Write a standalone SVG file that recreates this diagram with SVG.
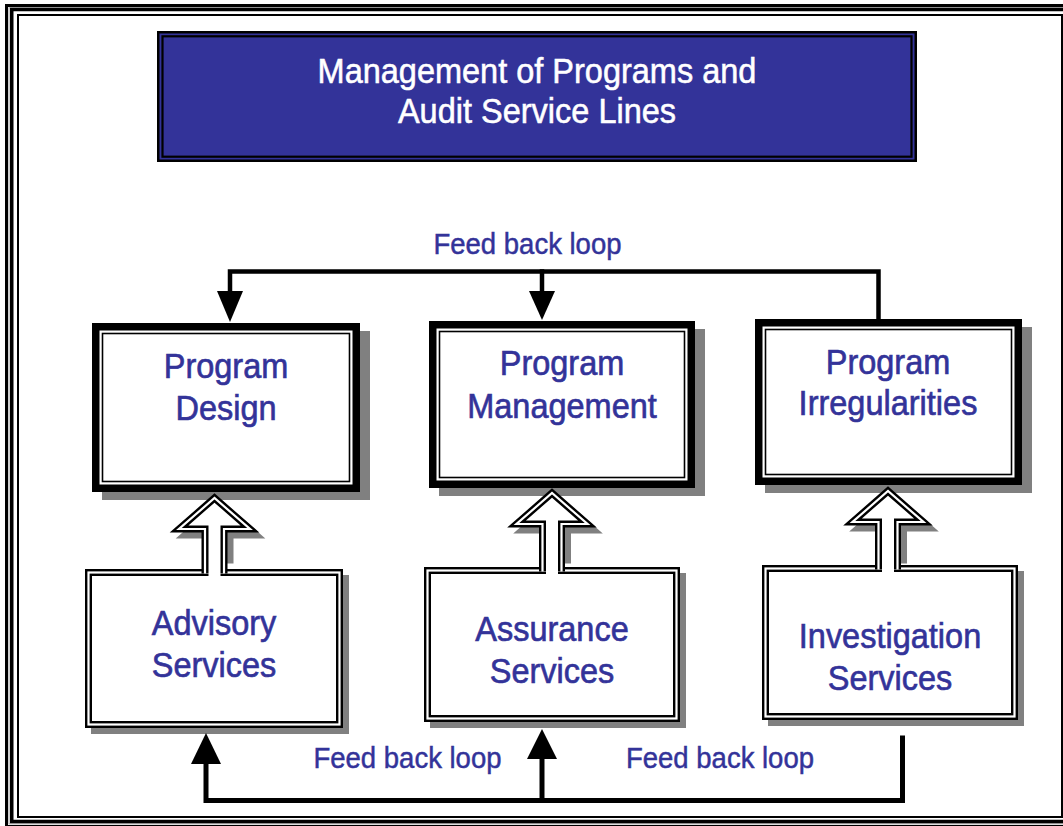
<svg xmlns="http://www.w3.org/2000/svg" width="1063" height="826" viewBox="0 0 1063 826">
  <style>
    .lbl { font-family: "Liberation Sans", Arial, Helvetica, sans-serif; font-size: 32.5px; fill: #333399; stroke: #333399; stroke-width: 0.6; text-anchor: middle; }
    .title { font-family: "Liberation Sans", Arial, Helvetica, sans-serif; font-size: 32.5px; fill: #ffffff; stroke: #ffffff; stroke-width: 0.5; text-anchor: middle; }
    .fb { font-family: "Liberation Sans", Arial, Helvetica, sans-serif; font-size: 27.5px; fill: #333399; stroke: #333399; stroke-width: 0.45; text-anchor: middle; }
    .shadow { fill: #808080; }
    .dbl-out { fill: #ffffff; stroke: #000000; stroke-width: 7; }
    .dbl-in { fill: none; stroke: #ffffff; stroke-width: 2.2; }
    .thick { fill: #000000; }
    .inner { fill: #ffffff; }
    .hair { fill: none; stroke: #000000; stroke-width: 1.6; }
    .loop { fill: none; stroke: #000000; stroke-linejoin: miter; stroke-linecap: square; }
    .head { fill: #000000; }
  </style>

  <!-- page frame -->
  <g id="frame" fill="none">
    <rect x="0" y="0" width="1063" height="826" fill="#ffffff"/>
    <rect x="6.5" y="5.5" width="1075" height="821" stroke="#000" stroke-width="3"/>
    <rect x="9" y="7.8" width="1070" height="816" stroke="#b0b0b0" stroke-width="1.2"/>
    <rect x="11.75" y="9.5" width="1070" height="812" stroke="#000" stroke-width="3.5"/>
    <rect x="18" y="15" width="1044" height="802" stroke="#000" stroke-width="2"/>
  </g>

  <!-- heading banner -->
  <g id="title">
    <rect x="157" y="31" width="760" height="131" fill="#000"/>
    <rect x="159.5" y="33.5" width="755" height="126" fill="#333399"/>
    <rect x="162.5" y="36.3" width="749" height="120.4" fill="none" stroke="#000" stroke-width="2.2"/>
    <text class="title" transform="translate(537,83) scale(1,1.08)">Management of Programs and</text>
    <text class="title" transform="translate(537,123) scale(1,1.08)">Audit Service Lines</text>
  </g>

  <!-- shadows of the hollow arrows -->
  <g id="arrow-shadows" class="shadow">
    <path d="M211,535 V560 H230 V535 H256 L220.5,504 L185,535 Z" stroke="#808080" stroke-width="7"/>
    <path d="M548.5,530 V560 H567.5 V530 H593.5 L558,499 L522.5,530 Z" stroke="#808080" stroke-width="7"/>
    <path d="M884.5,528 V560 H903.5 V528 H929.5 L894,497 L858.5,528 Z" stroke="#808080" stroke-width="7"/>
  </g>

  <!-- upper row -->
  <g id="program-design">
    <rect class="shadow" x="102" y="331" width="268" height="169"/>
    <rect class="thick" x="92" y="323" width="268" height="169"/>
    <rect class="inner" x="99.5" y="330.5" width="253" height="154"/>
    <rect class="hair" x="102.5" y="333.5" width="247" height="148"/>
    <text class="lbl" transform="translate(226,378) scale(1,1.1)">Program</text>
    <text class="lbl" transform="translate(226,420) scale(1,1.1)">Design</text>
  </g>

  <g id="program-management">
    <rect class="shadow" x="439" y="329" width="266" height="167"/>
    <rect class="thick" x="429" y="321" width="266" height="167"/>
    <rect class="inner" x="436.5" y="328.5" width="251" height="152"/>
    <rect class="hair" x="439.5" y="331.5" width="245" height="146"/>
    <text class="lbl" transform="translate(562,375) scale(1,1.1)">Program</text>
    <text class="lbl" transform="translate(562,418) scale(1,1.1)">Management</text>
  </g>

  <g id="program-irregularities">
    <rect class="shadow" x="765" y="327" width="267" height="166"/>
    <rect class="thick" x="755" y="319" width="267" height="166"/>
    <rect class="inner" x="762.5" y="326.5" width="252" height="151"/>
    <rect class="hair" x="765.5" y="329.5" width="246" height="145"/>
    <text class="lbl" transform="translate(888,374) scale(1,1.1)">Program</text>
    <text class="lbl" transform="translate(888,415) scale(1,1.1)">Irregularities</text>
  </g>

  <!-- lower row -->
  <g id="advisory-services">
    <rect class="shadow" x="91" y="575" width="258" height="159"/>
    <rect class="dbl-out" x="88.5" y="572.5" width="251" height="152"/>
    <rect class="dbl-in" x="88.5" y="572.5" width="251" height="152"/>
    <text class="lbl" transform="translate(214,635) scale(1,1.1)">Advisory</text>
    <text class="lbl" transform="translate(214,677) scale(1,1.1)">Services</text>
  </g>

  <g id="assurance-services">
    <rect class="shadow" x="430" y="573" width="256" height="155"/>
    <rect class="dbl-out" x="427.5" y="570.5" width="249" height="148"/>
    <rect class="dbl-in" x="427.5" y="570.5" width="249" height="148"/>
    <text class="lbl" transform="translate(552,641) scale(1,1.1)">Assurance</text>
    <text class="lbl" transform="translate(552,683) scale(1,1.1)">Services</text>
  </g>

  <g id="investigation-services">
    <rect class="shadow" x="768" y="571" width="256" height="155"/>
    <rect class="dbl-out" x="765.5" y="568.5" width="249" height="148"/>
    <rect class="dbl-in" x="765.5" y="568.5" width="249" height="148"/>
    <text class="lbl" transform="translate(890,648) scale(1,1.1)">Investigation</text>
    <text class="lbl" transform="translate(890,690) scale(1,1.1)">Services</text>
  </g>

  <g id="connectors">
    <!-- hollow arrows from the service lines up to the programs -->
    <g id="arrow-advisory">
      <rect x="208.5" y="567" width="12" height="12" fill="#fff"/>
      <path class="dbl-out" d="M205,573.5 V529 H179 L214.5,498 L250,529 H224 V573.5"/>
      <path class="dbl-in" d="M205,573.5 V529 H179 L214.5,498 L250,529 H224 V573.5"/>
    </g>
    <g id="arrow-assurance">
      <rect x="546" y="565" width="12" height="12" fill="#fff"/>
      <path class="dbl-out" d="M542.5,571.5 V524 H516.5 L552,493 L587.5,524 H561.5 V571.5"/>
      <path class="dbl-in" d="M542.5,571.5 V524 H516.5 L552,493 L587.5,524 H561.5 V571.5"/>
    </g>
    <g id="arrow-investigation">
      <rect x="882" y="563" width="12" height="12" fill="#fff"/>
      <path class="dbl-out" d="M878.5,569.5 V522 H852.5 L888,491 L923.5,522 H897.5 V569.5"/>
      <path class="dbl-in" d="M878.5,569.5 V522 H852.5 L888,491 L923.5,522 H897.5 V569.5"/>
    </g>

    <!-- upper feedback loop -->
    <g id="feedback-top">
      <path class="loop" stroke-width="4.5" d="M230,295 V271.5 H878.5 V319"/>
      <path class="loop" stroke-width="4.5" d="M542,271.5 V295"/>
      <polygon class="head" points="217,291 243,291 230,322"/>
      <polygon class="head" points="529,291 555,291 542,320"/>
    </g>

    <!-- lower feedback loop -->
    <g id="feedback-bottom">
      <path class="loop" stroke-width="5" d="M206,762 V800.5 H902.5 V738"/>
      <path class="loop" stroke-width="5" d="M542,800.5 V757"/>
      <polygon class="head" points="191,764 221,764 206,733"/>
      <polygon class="head" points="527,759 557,759 542,729"/>
    </g>
  </g>

  <g id="loop-labels">
    <text class="fb" transform="translate(527.5,254) scale(1,1.06)">Feed back loop</text>
    <text class="fb" transform="translate(407.5,768) scale(1,1.06)">Feed back loop</text>
    <text class="fb" transform="translate(720,768) scale(1,1.06)">Feed back loop</text>
  </g>
</svg>
